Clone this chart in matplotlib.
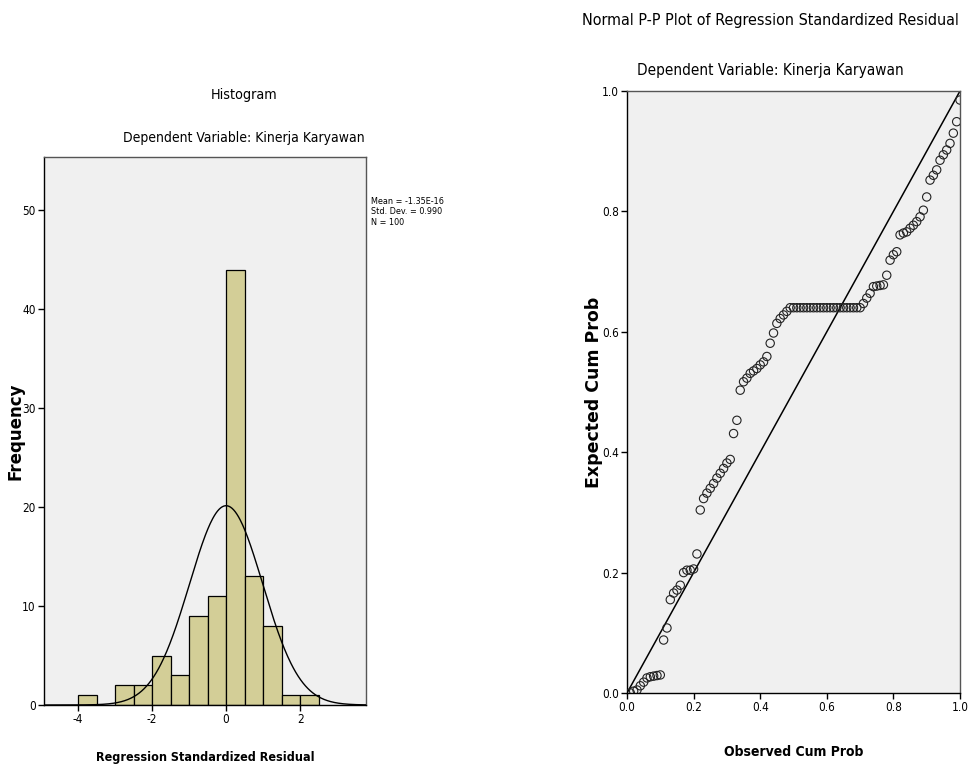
"""Histogram + normal P-P plot of regression standardized residuals (SPSS style)."""
import matplotlib
matplotlib.use("Agg")
import matplotlib.pyplot as plt
import numpy as np
from matplotlib import font_manager
from matplotlib.font_manager import FontProperties

plt.rcParams["axes.unicode_minus"] = False

BAR = "#d3ce97"
BG = "#f0f0f0"

# histogram data (bin width 0.5)
bin_left = [-4.0, -3.5, -3.0, -2.5, -2.0, -1.5, -1.0, -0.5, 0.0, 0.5, 1.0, 1.5, 2.0]
counts = [1, 0, 2, 2, 5, 3, 9, 11, 44, 13, 8, 1, 1]
bin_w = 0.5
res_mean = -1.35e-16
res_sd = 0.990
n_obs = 100
hist_xticks = [-4, -2, 0, 2]
hist_yticks = [0, 10, 20, 30, 40, 50]

# P-P plot: observed cum prob (rank / N) vs expected cum prob
observed = [i / 100 for i in range(1, 101)]
expected = [
    0.0001, 0.003, 0.005, 0.012, 0.018, 0.025, 0.027, 0.028, 0.029, 0.030,
    0.088, 0.108, 0.155, 0.166, 0.171, 0.179, 0.200, 0.204, 0.204, 0.206,
    0.231, 0.304, 0.323, 0.332, 0.340, 0.348, 0.357, 0.365, 0.373, 0.382,
    0.388, 0.431, 0.453, 0.503, 0.517, 0.523, 0.531, 0.535, 0.539, 0.545,
    0.550, 0.559, 0.581, 0.598, 0.614, 0.622, 0.628, 0.634, 0.640, 0.640,
    0.640, 0.640, 0.640, 0.640, 0.640, 0.640, 0.640, 0.640, 0.640, 0.640,
    0.640, 0.640, 0.640, 0.640, 0.640, 0.640, 0.640, 0.640, 0.640, 0.640,
    0.647, 0.656, 0.664, 0.675, 0.676, 0.677, 0.678, 0.694, 0.719, 0.728,
    0.733, 0.761, 0.764, 0.766, 0.772, 0.777, 0.783, 0.791, 0.802, 0.824,
    0.852, 0.860, 0.869, 0.885, 0.894, 0.902, 0.913, 0.930, 0.949, 0.985,
]
pp_ticks = [0.0, 0.2, 0.4, 0.6, 0.8, 1.0]


def narrow_font():
    # look for a condensed face (Arial Narrow look); fall back to a shrunk Liberation Sans
    reg, bold = None, None
    for f in font_manager.fontManager.ttflist:
        cond = ("Narrow" in f.name or "Condensed" in f.name
                or f.stretch in ("condensed", "semi-condensed", "extra-condensed", 500, 600, 700))
        if not cond or f.style != "normal":
            continue
        w = f.weight if isinstance(f.weight, int) else (700 if f.weight == "bold" else 400)
        if w >= 600 and bold is None:
            bold = f.fname
        elif w < 600 and reg is None:
            reg = f.fname
    if reg:
        return FontProperties(fname=reg), FontProperties(fname=bold or reg), 1.0
    return FontProperties(family="Liberation Sans"), FontProperties(family="Liberation Sans", weight="bold"), 0.95


NR, NB, K = narrow_font()


def fp(base, size):
    p = base.copy()
    p.set_size(size * K)
    return p


W, H = 969, 772
fig = plt.figure(figsize=(W / 100, H / 100), dpi=100)


def box(l, t, r, b):
    return [l / W, 1 - b / H, (r - l) / W, (b - t) / H]


def style(ax):
    ax.set_facecolor(BG)
    for s in ax.spines.values():
        s.set_color("#555555")
        s.set_linewidth(1.0)
    ax.spines["left"].set_color("black")
    ax.spines["bottom"].set_color("black")
    ax.tick_params(direction="out", length=4, width=1, pad=2)
    for lab in ax.get_xticklabels() + ax.get_yticklabels():
        lab.set_fontproperties(fp(NR, 8.5))


# --- histogram
a1 = fig.add_axes(box(44, 157, 366, 705))
a1.bar(bin_left, counts, width=bin_w, align="edge", color=BAR,
       edgecolor="black", linewidth=0.9, zorder=2)
xs = np.linspace(-4.92, 3.78, 400)
pdf = n_obs * bin_w / (res_sd * np.sqrt(2 * np.pi)) * np.exp(-0.5 * ((xs - res_mean) / res_sd) ** 2)
a1.plot(xs, pdf, color="black", lw=1.0, zorder=3)
a1.set_xlim(-4.92, 3.78)
a1.set_ylim(0, 55.4)
a1.set_xticks(hist_xticks)
a1.set_yticks(hist_yticks)
style(a1)
a1.set_xlabel("Regression Standardized Residual", fontproperties=fp(NB, 9))
a1.xaxis.set_label_coords(0.5, -0.095)
a1.xaxis.label.set_va("center")
a1.set_ylabel("Frequency", fontproperties=FontProperties(family="DejaVu Sans", weight="bold", size=12))
a1.yaxis.set_label_coords(-0.09, 0.5)
a1.yaxis.label.set_va("center")
fig.text(244 / W, 1 - 95 / H, "Histogram", fontproperties=fp(NR, 10.3),
         ha="center", va="center")
fig.text(244 / W, 1 - 138 / H, "Dependent Variable: Kinerja Karyawan",
         fontproperties=fp(NR, 10), ha="center", va="center")
fig.text(371 / W, 1 - 212 / H,
         "Mean = -1.35E-16\nStd. Dev. = 0.990\nN = %d" % n_obs,
         fontproperties=fp(NR, 6.5), ha="left", va="center", linespacing=1.2)

# --- P-P plot
a2 = fig.add_axes(box(627, 91, 960, 693))
a2.plot([0, 1], [0, 1], color="black", lw=1.1, zorder=2)
a2.scatter(observed, expected, s=36, facecolors="none", edgecolors="#222222",
           linewidths=0.8, zorder=3)
a2.set_xlim(0, 1)
a2.set_ylim(0, 1)
a2.set_xticks(pp_ticks)
a2.set_yticks(pp_ticks)
a2.set_xticklabels(["%.1f" % t for t in pp_ticks])
a2.set_yticklabels(["%.1f" % t for t in pp_ticks])
style(a2)
a2.set_xlabel("Observed Cum Prob", fontproperties=fp(NB, 10))
a2.xaxis.set_label_coords(0.5, -0.098)
a2.xaxis.label.set_va("center")
a2.set_ylabel("Expected Cum Prob", fontproperties=FontProperties(family="DejaVu Sans", weight="bold", size=12.5))
a2.yaxis.set_label_coords(-0.1, 0.5)
a2.yaxis.label.set_va("center")
fig.text(770 / W, 1 - 20 / H, "Normal P-P Plot of Regression Standardized Residual",
         fontproperties=fp(NR, 11.5), ha="center", va="center")
fig.text(770 / W, 1 - 70 / H, "Dependent Variable: Kinerja Karyawan",
         fontproperties=fp(NR, 11), ha="center", va="center")

fig.savefig("out.png", dpi=100)
